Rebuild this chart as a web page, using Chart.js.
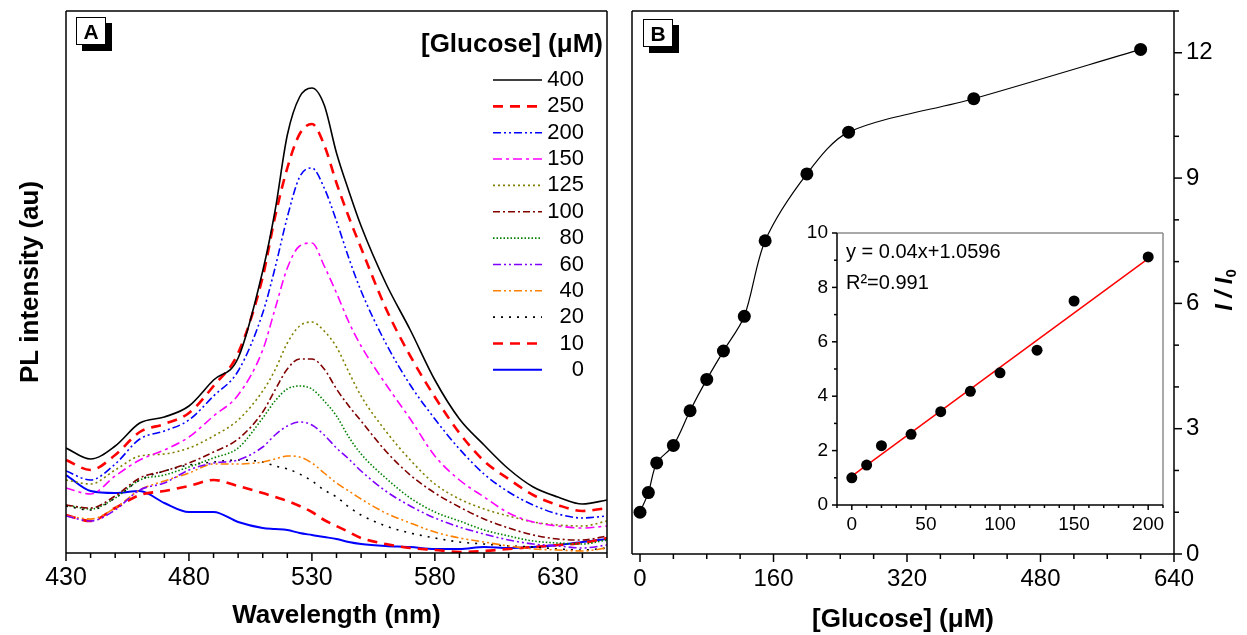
<!DOCTYPE html>
<html>
<head>
<meta charset="utf-8">
<script src="https://cdn.jsdelivr.net/npm/chart.js@4.4.1/dist/chart.umd.min.js"></script>
<style>
	body { margin: 0; background: #fff; width: 1247px; height: 635px; position: relative; overflow: hidden; font-family: 'Liberation Sans', Arial, sans-serif; }
	canvas { position: absolute; }
	#chartA { left: 0; top: 0; }
	#chartB { left: 620px; top: 0; }
	#chartInset { left: 795px; top: 223px; }
	.tag { position: absolute; width: 28px; height: 26px; border: 1px solid #000; background: #fff; box-shadow: 6px 6px 0 #000;
		font: bold 21px 'Liberation Sans', Arial, sans-serif; text-align: center; line-height: 27px; }
</style>
</head>
<body>
<canvas id="chartA" width="620" height="635"></canvas>
<canvas id="chartB" width="627" height="635"></canvas>
<canvas id="chartInset" width="375" height="322"></canvas>
<div class="tag" style="left:76px;top:17px">A</div>
<div class="tag" style="left:643px;top:19px">B</div>
<script>
// ---- panel A : PL spectra (arbitrary units) ----
const wavelength = [430, 440, 450, 460, 470, 480, 490, 500, 510, 515, 520, 525, 530, 535, 540, 545, 550, 560, 570, 580, 590, 600, 610, 620, 630, 640, 650];
const glucoseLevels = ['400', '250', '200', '150', '125', '100', '80', '60', '40', '20', '10', '0'];
const pl400 = [105, 94, 107, 130, 136, 147, 173, 195, 282, 342, 418, 456, 465, 448, 400, 362, 327, 270, 223, 173, 134, 108, 84, 66, 56, 49, 53];
const pl250 = [93, 83, 98, 121, 129, 140, 167, 200, 276, 336, 385, 419, 429, 408, 370, 336, 305, 245, 197, 156, 120, 92, 74, 58, 48, 42, 45];
const pl200 = [82, 73, 89, 114, 122, 133, 157, 182, 240, 285, 336, 376, 385, 365, 332, 295, 262, 210, 168, 134, 104, 79, 61, 48, 39, 35, 37];
const pl150 = [65, 59, 77, 93, 103, 116, 137, 158, 203, 244, 285, 307, 310, 287, 260, 231, 207, 169, 134, 97, 73, 56, 40, 31, 27, 25, 27];
const pl125 = [73, 69, 83, 97, 99, 105, 117, 133, 162, 183, 210, 227, 231, 222, 206, 181, 157, 122, 93, 69, 54, 44, 37, 31, 28, 27, 32];
const pl100 = [48, 45, 57, 75, 82, 90, 101, 114, 141, 163, 184, 194, 194, 184, 164, 147, 132, 102, 78, 60, 46, 34, 25, 18, 14, 13, 17];
const pl80 = [48, 44, 55, 73, 78, 86, 95, 105, 135, 152, 164, 167, 164, 152, 137, 116, 99, 75, 55, 41, 32, 23, 17, 12, 10, 9, 13];
const pl60 = [37, 32, 43, 63, 70, 83, 90, 93, 106, 118, 127, 131, 128, 118, 105, 94, 82, 62, 47, 35, 26, 19, 13, 9, 7, 5, 8];
const pl40 = [37, 34, 45, 63, 72, 80, 89, 89, 91, 94, 97, 96, 90, 80, 70, 62, 54, 40, 30, 21, 15, 11, 7, 4, 3, 2, 5];
const pl20 = [47, 43, 55, 73, 82, 88, 91, 93, 91, 87, 84, 79, 72, 63, 56, 46, 38, 27, 20, 15, 11, 9, 7, 6, 4, 3, 5];
const pl10 = [38, 32, 45, 58, 62, 67, 73, 67, 60, 56, 52, 47, 41, 33, 27, 21, 15, 9, 5, 3, 1, 2, 4, 6, 8, 10, 15];
const pl0 = [78, 62, 60, 62, 50, 41, 41, 31, 25, 24, 23, 20, 18, 16, 14, 11, 9, 7, 6, 4, 4, 6, 5, 6, 8, 11, 14];
const wavelengthTicks = [430, 480, 530, 580, 630];

// ---- panel B : I/I0 vs glucose ----
const glucose = [0, 10, 20, 40, 60, 80, 100, 125, 150, 200, 250, 400, 600];
const ratio = [1.0, 1.47, 2.18, 2.6, 3.43, 4.18, 4.86, 5.69, 7.5, 9.1, 10.1, 10.9, 12.08];
const glucoseTicks = [0, 160, 320, 480, 640];
const ratioTicks = [0, 3, 6, 9, 12];

// ---- inset : linear range ----
const insetGlucose = [0, 10, 20, 40, 60, 80, 100, 125, 150, 200];
const insetRatio = [1.0, 1.47, 2.18, 2.6, 3.43, 4.18, 4.86, 5.69, 7.5, 9.12];
const fitGlucose = [0, 200];
const fitRatio = [1.06, 9.06];
const insetXTicks = [0, 50, 100, 150, 200];
const insetYTicks = [0, 2, 4, 6, 8, 10];

const spectra = [pl400, pl250, pl200, pl150, pl125, pl100, pl80, pl60, pl40, pl20, pl10, pl0];
const lineStyles = [
	{ color: '#000000', width: 1.6, dash: [] },
	{ color: '#ff0000', width: 2.6, dash: [10, 7] },
	{ color: '#0000ff', width: 1.6, dash: [8, 3, 2, 3, 2, 3] },
	{ color: '#ff00ff', width: 1.6, dash: [9, 4, 3, 4] },
	{ color: '#808000', width: 1.6, dash: [2, 3] },
	{ color: '#800000', width: 1.6, dash: [7, 3, 2, 3] },
	{ color: '#008000', width: 1.6, dash: [1.5, 2] },
	{ color: '#8000ff', width: 1.6, dash: [8, 3, 2, 3, 2, 3] },
	{ color: '#ff8000', width: 1.6, dash: [8, 3, 2, 3, 2, 3] },
	{ color: '#000000', width: 1.6, dash: [2, 6] },
	{ color: '#ff0000', width: 2.6, dash: [10, 7] },
	{ color: '#0000ff', width: 2, dash: [] },
];

const FONT = "'Liberation Sans', Arial, sans-serif";
Chart.defaults.font.family = FONT;
Chart.defaults.color = '#000';

// frame round the plot area + origin-like major / minor ticks
const frame = {
	id: 'frame',
	afterDraw(chart, args, o) {
		const { ctx, chartArea: a } = chart;
		ctx.save();
		ctx.lineWidth = o.width || 1.5;
		ctx.setLineDash([]);
		(o.ticks || []).forEach((t) => {
			const s = chart.scales[t.axis];
			ctx.strokeStyle = '#000';
			for (let v = t.from; v <= t.to + 1e-9; v += t.step) {
				const r = (v - (t.base || 0)) / t.major;
				const len = Math.abs(r - Math.round(r)) < 1e-6 ? t.long : t.short;
				const p = s.getPixelForValue(v);
				ctx.beginPath();
				if (t.side == 'bottom') { ctx.moveTo(p, a.bottom); ctx.lineTo(p, a.bottom + len); }
				else if (t.side == 'right') { ctx.moveTo(a.right, p); ctx.lineTo(a.right + len, p); }
				else if (t.side == 'left') { ctx.moveTo(a.left, p); ctx.lineTo(a.left - len, p); }
				ctx.stroke();
			}
		});
		const sides = o.sides;
		const seg = (c, x0, y0, x1, y1) => {
			ctx.beginPath(); ctx.strokeStyle = c; ctx.moveTo(x0, y0); ctx.lineTo(x1, y1); ctx.stroke();
		};
		seg(sides.top, a.left, a.top, a.right, a.top);
		seg(sides.right, a.right, a.top, a.right, a.bottom);
		seg(sides.bottom, a.left, a.bottom, a.right, a.bottom);
		seg(sides.left, a.left, a.top, a.left, a.bottom);
		ctx.restore();
	}
};

// legend of panel A: title, line samples and right-aligned numbers
const glucoseLegend = {
	id: 'glucoseLegend',
	afterDraw(chart, args, o) {
		const ctx = chart.ctx;
		ctx.save();
		ctx.fillStyle = '#000';
		ctx.textAlign = 'right';
		ctx.textBaseline = 'middle';
		ctx.font = 'bold 26px ' + FONT;
		ctx.fillText(o.title, o.titleX, o.titleY);
		ctx.font = '22px ' + FONT;
		chart.data.datasets.forEach((ds, i) => {
			const y = o.top + i * o.rowHeight;
			ctx.beginPath();
			ctx.strokeStyle = ds.borderColor;
			ctx.lineWidth = ds.borderWidth;
			ctx.setLineDash(ds.borderDash);
			ctx.moveTo(o.lineX0, y);
			ctx.lineTo(o.lineX1, y);
			ctx.stroke();
			ctx.setLineDash([]);
			ctx.fillText(ds.label, o.textX, y);
		});
		ctx.restore();
	}
};

// free text lines (inset equation) and the I/I0 axis title
const notes = {
	id: 'notes',
	afterDraw(chart, args, o) {
		const ctx = chart.ctx;
		ctx.save();
		ctx.fillStyle = '#000';
		ctx.textBaseline = 'middle';
		(o.lines || []).forEach((l) => {
			ctx.font = l.font;
			ctx.textAlign = 'left';
			ctx.fillText(l.text, l.x, l.y);
		});
		if (o.ratioTitle) {
			const t = o.ratioTitle;
			ctx.translate(t.x, t.y);
			ctx.rotate(-Math.PI / 2);
			ctx.font = 'italic bold 24px ' + FONT;
			const w = ctx.measureText('I / I').width;
			ctx.font = 'bold 15px ' + FONT;
			const ws = ctx.measureText('0').width;
			const x0 = -(w + ws) / 2;
			ctx.font = 'italic bold 24px ' + FONT;
			ctx.textAlign = 'left';
			ctx.fillText('I / I', x0, 0);
			ctx.font = 'bold 15px ' + FONT;
			ctx.fillText('0', x0 + w, 7);
		}
		ctx.restore();
	}
};

const hiddenGrid = { display: false, drawTicks: false };
const fixTicks = (list) => (s) => { s.ticks = list.map((v) => ({ value: v })); };
const fixSize = (w, h) => (s) => {
	if (w !== null) s.width = w;
	if (h !== null) s.height = h;
	s.paddingTop = 0; s.paddingBottom = 0; s.paddingLeft = 0; s.paddingRight = 0;
};

new Chart(document.getElementById('chartA'), {
	type: 'line',
	data: {
		datasets: spectra.map((s, i) => ({
			label: glucoseLevels[i],
			data: wavelength.map((w, j) => ({ x: w, y: s[j] })),
			borderColor: lineStyles[i].color,
			borderWidth: lineStyles[i].width,
			borderDash: lineStyles[i].dash,
			pointRadius: 0,
			cubicInterpolationMode: 'monotone',
			fill: false,
		})),
	},
	options: {
		responsive: false, animation: false, devicePixelRatio: 1,
		layout: { padding: { top: 11, right: 13, left: 0, bottom: 0 } },
		plugins: {
			legend: { display: false }, tooltip: { enabled: false },
			frame: {
				width: 1.5, sides: { top: '#000', right: '#000', bottom: '#000', left: '#000' },
				ticks: [{ axis: 'x', side: 'bottom', from: 430, to: 650, step: 10, base: 430, major: 50, long: 8, short: 5 }]
			},
			glucoseLegend: { title: '[Glucose] (μM)', titleX: 603, titleY: 45, top: 80, rowHeight: 26.35, lineX0: 493, lineX1: 542, textX: 584 },
		},
		scales: {
			x: {
				type: 'linear', min: 430, max: 650,
				afterBuildTicks: fixTicks(wavelengthTicks),
				afterFit: fixSize(null, 82),
				grid: hiddenGrid, border: { display: false },
				ticks: { font: { size: 25 }, padding: 10, maxRotation: 0, autoSkip: false },
				title: { display: true, text: 'Wavelength (nm)', font: { size: 26, weight: 'bold' }, padding: { top: 0, bottom: 4 } },
			},
			y: {
				min: 0, max: 542,
				afterFit: fixSize(66, null),
				grid: hiddenGrid, border: { display: false },
				ticks: { display: false },
				title: { display: true, text: 'PL intensity (au)', font: { size: 26, weight: 'bold' }, padding: { top: 15, bottom: 0 } },
			},
		},
	},
	plugins: [frame, glucoseLegend],
});

new Chart(document.getElementById('chartB'), {
	type: 'line',
	data: {
		datasets: [{
			data: glucose.map((g, i) => ({ x: g, y: ratio[i] })),
			borderColor: '#000', borderWidth: 1.2,
			pointRadius: 6.5, pointBackgroundColor: '#000', pointBorderColor: '#000', pointBorderWidth: 0,
			tension: 0.3, fill: false,
		}],
	},
	options: {
		responsive: false, animation: false, devicePixelRatio: 1,
		layout: { padding: { top: 11, right: 0, left: 12, bottom: 0 } },
		plugins: {
			legend: { display: false }, tooltip: { enabled: false },
			frame: {
				width: 1.5, sides: { top: '#000', right: '#000', bottom: '#000', left: '#000' },
				ticks: [
					{ axis: 'x', side: 'bottom', from: 0, to: 640, step: 40, major: 160, long: 8, short: 5 },
					{ axis: 'y', side: 'right', from: 0, to: 13, step: 1, major: 3, long: 8, short: 5 },
				]
			},
			notes: { ratioTitle: { x: 605, y: 290 } },
		},
		scales: {
			x: {
				type: 'linear', min: -9.6, max: 640,
				afterBuildTicks: fixTicks(glucoseTicks),
				afterFit: fixSize(null, 81),
				grid: hiddenGrid, border: { display: false },
				ticks: { font: { size: 24 }, padding: 11, maxRotation: 0, autoSkip: false },
				title: { display: true, text: '[Glucose] (μM)', font: { size: 26, weight: 'bold' }, padding: { top: 0, bottom: 0 } },
			},
			y: {
				position: 'right', min: 0, max: 13,
				afterBuildTicks: fixTicks(ratioTicks),
				afterFit: fixSize(73, null),
				grid: hiddenGrid, border: { display: false },
				ticks: { font: { size: 24 }, padding: 12 },
			},
		},
	},
	plugins: [frame, notes],
});

new Chart(document.getElementById('chartInset'), {
	type: 'line',
	data: {
		datasets: [
			{
				data: insetGlucose.map((g, i) => ({ x: g, y: insetRatio[i] })),
				showLine: false,
				pointRadius: 5.5, pointBackgroundColor: '#000', pointBorderColor: '#000', pointBorderWidth: 0,
			},
			{
				data: fitGlucose.map((g, i) => ({ x: g, y: fitRatio[i] })),
				borderColor: '#ff0000', borderWidth: 1.5, pointRadius: 0, fill: false,
			},
		],
	},
	options: {
		responsive: false, animation: false, devicePixelRatio: 1,
		layout: { padding: { top: 10, right: 7, left: 0, bottom: 0 } },
		plugins: {
			legend: { display: false }, tooltip: { enabled: false },
			frame: {
				width: 1.5, sides: { top: '#8c8c8c', right: '#8c8c8c', bottom: '#000', left: '#000' },
				ticks: [
					{ axis: 'x', side: 'bottom', from: -10, to: 210, step: 10, major: 50, long: 5, short: 3 },
					{ axis: 'y', side: 'left', from: 0, to: 10, step: 1, major: 2, long: 5, short: 3 },
				]
			},
			notes: {
				lines: [
					{ text: 'y = 0.04x+1.0596', x: 51, y: 29, font: '20px ' + FONT },
					{ text: 'R²=0.991', x: 51, y: 60, font: '20px ' + FONT },
				]
			},
		},
		scales: {
			x: {
				type: 'linear', min: -10, max: 210,
				afterBuildTicks: fixTicks(insetXTicks),
				afterFit: fixSize(null, 40),
				grid: hiddenGrid, border: { display: false },
				ticks: { font: { size: 19 }, padding: 8, maxRotation: 0, autoSkip: false },
			},
			y: {
				min: 0, max: 10,
				afterBuildTicks: fixTicks(insetYTicks),
				afterFit: fixSize(42, null),
				grid: hiddenGrid, border: { display: false },
				ticks: { font: { size: 19 }, padding: 9 },
			},
		},
	},
	plugins: [frame, notes],
});
</script>
</body>
</html>
